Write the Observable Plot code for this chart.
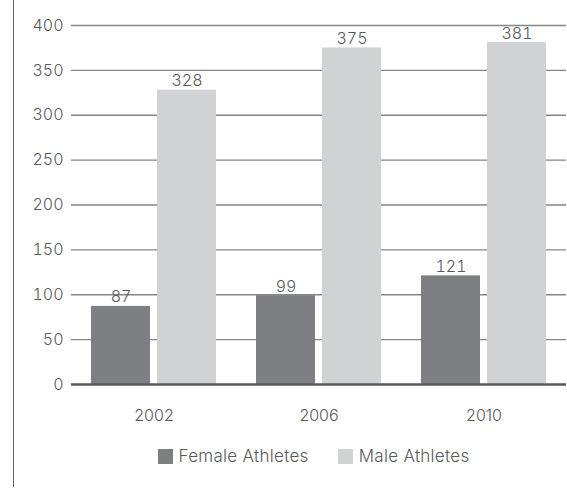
<!DOCTYPE html>
<html>
<head>
<meta charset="utf-8">
<script src="https://cdn.jsdelivr.net/npm/d3@7"></script>
<script src="https://cdn.jsdelivr.net/npm/@observablehq/plot@0.6"></script>
<style>
  html, body { margin: 0; padding: 0; background: #fff; }
  body { width: 567px; height: 489px; position: relative; overflow: hidden; font-family: Inter, Lato, sans-serif; }
  #frame { position: absolute; left: 13px; top: 0; width: 1px; height: 487px; background: #666; }
  #chart { position: absolute; left: 0; top: 0; }
  #legend { position: absolute; top: 446px; left: 0; width: 567px; display: flex; justify-content: center; padding-left: 60px; box-sizing: border-box; gap: 29px; font-size: 17px; letter-spacing: 0.3px; font-weight: 300; color: #58595b; }
  .item { display: flex; align-items: center; }
  .sw { width: 15px; height: 15px; margin-right: 6px; display: inline-block; }
</style>
</head>
<body>
<div id="frame"></div>
<div id="chart"></div>
<div id="legend"></div>
<script>
const years = ["2002", "2006", "2010"];
const female = [87, 99, 121];
const male = [328, 375, 381];
const series = ["Female Athletes", "Male Athletes"];
const colors = ["#7e7f83", "#d1d2d4"];
const yTicks = [0, 50, 100, 150, 200, 250, 300, 350, 400];

const data = years.flatMap((yr, i) => [
  {year: yr, sex: series[0], value: female[i]},
  {year: yr, sex: series[1], value: male[i]}
]);

const chart = Plot.plot({
  width: 567,
  height: 429,
  marginLeft: 70,
  marginRight: 0,
  marginTop: 25,
  marginBottom: 45,
  style: {fontFamily: "Inter, Lato, sans-serif", fontSize: "16px", fontWeight: 300, color: "#58595b", background: "transparent"},
  fx: {domain: years, padding: 0, label: null, axis: "bottom", tickSize: 0, tickPadding: 25},
  x: {domain: series, axis: null, paddingInner: 0.1, paddingOuter: 0.29},
  y: {domain: [0, 400], ticks: yTicks, label: null, tickSize: 0, tickPadding: 8},
  color: {domain: series, range: colors},
  marks: [
    Plot.ruleY(yTicks.slice(1), {stroke: "#858585", strokeWidth: 1.3}),
    Plot.barY(data, {fx: "year", x: "sex", y: "value", fill: "sex"}),
    Plot.text(data, {fx: "year", x: "sex", y: "value", text: "value", lineAnchor: "bottom", dy: -4, fill: "#58595b", fontSize: 16}),
    Plot.ruleY([0], {stroke: "#58595b", strokeWidth: 2.5})
  ]
});
document.getElementById("chart").appendChild(chart);

const legend = document.getElementById("legend");
series.forEach((s, i) => {
  const item = document.createElement("div");
  item.className = "item";
  const sw = document.createElement("span");
  sw.className = "sw";
  sw.style.background = colors[i];
  const t = document.createElement("span");
  t.textContent = s;
  item.appendChild(sw);
  item.appendChild(t);
  legend.appendChild(item);
});
</script>
</body>
</html>
